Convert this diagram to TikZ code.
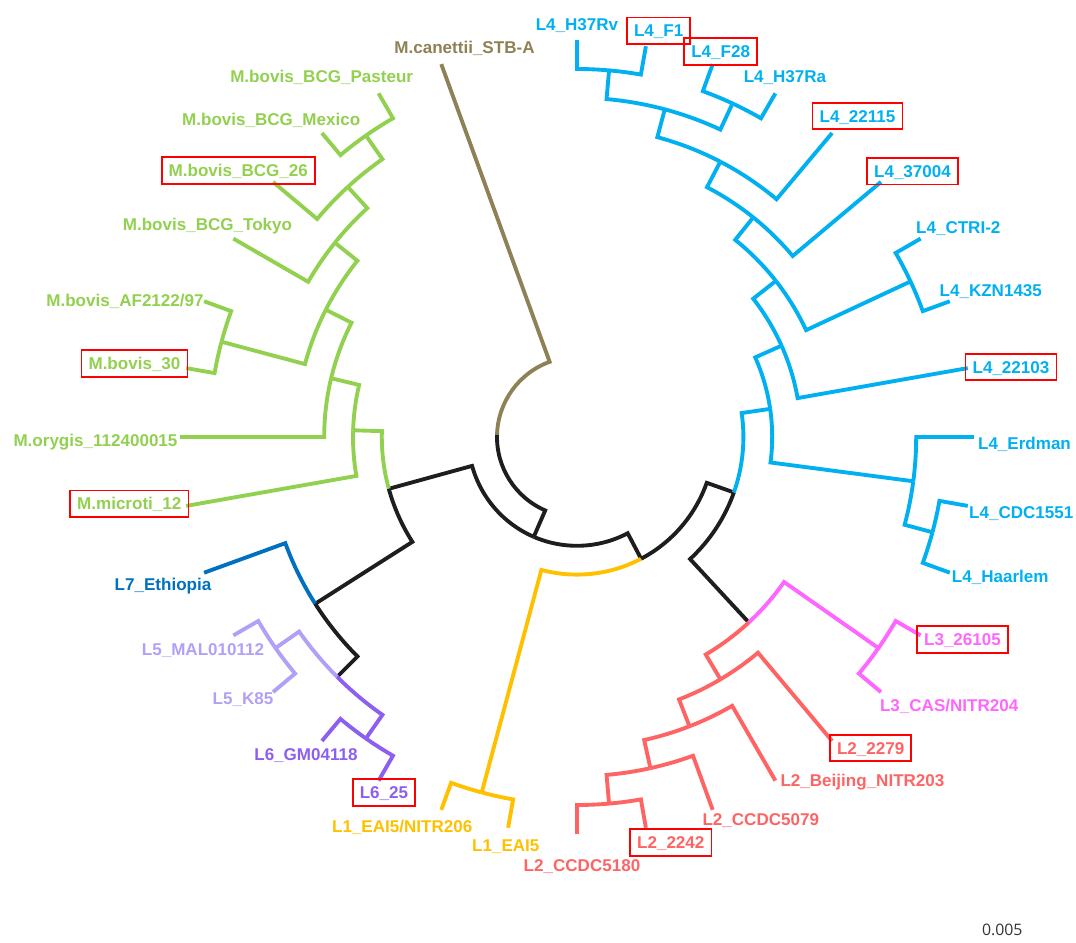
\documentclass[tikz,border=0pt]{standalone}
\usepackage{fontspec}
\setmainfont{Liberation Sans}
\setsansfont{Open Sans}
\usetikzlibrary{positioning}
\definecolor{canettii}{RGB}{141,129,85}
\definecolor{animal}{RGB}{146,208,80}
\definecolor{lfour}{RGB}{0,176,240}
\definecolor{lseven}{RGB}{0,112,192}
\definecolor{lfive}{RGB}{178,160,248}
\definecolor{lsix}{RGB}{140,95,242}
\definecolor{lone}{RGB}{255,192,0}
\definecolor{ltwo}{RGB}{255,100,100}
\definecolor{lthree}{RGB}{255,102,255}
\definecolor{stem}{RGB}{30,30,30}
\tikzset{branch/.style={line width=2.2pt, line join=miter}}
\tikzset{leaf/.style={font=\fontsize{9.7}{11}\selectfont\bfseries, text height=7pt, text depth=0pt, inner sep=4pt}}
\tikzset{marked/.style={leaf, draw=red, line width=1pt}}

\begin{document}
\begin{tikzpicture}[x=0.02cm, y=0.02cm]
    \useasboundingbox (-577,-506) rectangle (499,437);

    \foreach \n/\a/\r in {root/178.291/80, mtbc/246.582/108.8, west/195.391/195.2,
        anA/178.281/224, anB/166.563/252.8, anC/153.125/281.6, bcgC/141.25/310.4,
        bcgB/132.5/339.2, bcgA/125/368, bov/165/368,
        l567/212.5/310.4, l56/225/339.2, l5/215/368, l6/235/368,
        east/297.773/137.6, l1/255/368, l234/340.547/166.4, l23/312.813/252.8,
        l3/325/368, l2a/300.625/281.6, l2b/291.25/310.4, l2c/282.5/339.2, l2d/275/368,
        l4/368.281/195.2, l4a/352.5/339.2, l4h/345/368, l4b/384.063/224,
        l4c/398.125/252.8, l4k/385/368, l4d/411.25/281.6, l4e/422.5/310.4,
        l4f/435/339.2, l4g/425/368, l4r/445/368}
        \coordinate (\n) at (\a:\r);

    \foreach \n/\a in {canettii/110, pasteur/120, mexico/130, bcg26/140, tokyo/150,
        af/160, bov30/170, orygis/180, microti/190, ethiopia/200, mal/210, k85/220,
        gm/230, l6x25/240, eai5nitr/250, eai5/260, ccdc5180/270, l2x2242/280,
        ccdc5079/290, beijing/300, l2x2279/310, cas/320, l3x26105/330, haarlem/340,
        cdc1551/350, erdman/360, l4x22103/370, kzn/380, ctri/390, l4x37004/400,
        l4x22115/410, h37ra/420, f28/430, f1/440, h37rv/450}
        \coordinate (\n) at (\a:396.8);

    \foreach \c/\a/\p/\r/\col in {canettii/110/178.291/80/canettii, mtbc/246.582/178.291/80/stem,
        west/195.391/246.582/108.8/stem, east/297.773/246.582/108.8/stem,
        anA/178.281/195.391/195.2/animal, l567/212.5/195.391/195.2/stem,
        l1/255/297.773/137.6/lone, l234/340.547/297.773/137.6/stem,
        l23/312.813/340.547/166.4/stem, l4/368.281/340.547/166.4/lfour,
        l3/325/312.813/252.8/lthree, l2a/300.625/312.813/252.8/ltwo,
        ethiopia/200/212.5/310.4/lseven, l56/225/212.5/310.4/stem,
        l5/215/225/339.2/lfive, l6/235/225/339.2/lsix}
        \draw[branch, \col] (\c) -- (\a:\r) arc[start angle=\a, end angle=\p, radius=\r];

    \foreach \c/\a/\p/\r in {microti/190/178.281/224, anB/166.563/178.281/224,
        orygis/180/166.563/252.8, anC/153.125/166.563/252.8,
        bcgC/141.25/153.125/281.6, bov/165/153.125/281.6,
        af/160/165/368, bov30/170/165/368,
        tokyo/150/141.25/310.4, bcgB/132.5/141.25/310.4,
        bcg26/140/132.5/339.2, bcgA/125/132.5/339.2,
        mexico/130/125/368, pasteur/120/125/368}
        \draw[branch, animal] (\c) -- (\a:\r) arc[start angle=\a, end angle=\p, radius=\r];

    \foreach \c/\a/\p/\r/\col in {mal/210/215/368/lfive, k85/220/215/368/lfive,
        gm/230/235/368/lsix, l6x25/240/235/368/lsix,
        eai5nitr/250/255/368/lone, eai5/260/255/368/lone,
        cas/320/325/368/lthree, l3x26105/330/325/368/lthree}
        \draw[branch, \col] (\c) -- (\a:\r) arc[start angle=\a, end angle=\p, radius=\r];

    \foreach \c/\a/\p/\r in {l2x2279/310/300.625/281.6, l2b/291.25/300.625/281.6,
        beijing/300/291.25/310.4, l2c/282.5/291.25/310.4,
        ccdc5079/290/282.5/339.2, l2d/275/282.5/339.2,
        ccdc5180/270/275/368, l2x2242/280/275/368}
        \draw[branch, ltwo] (\c) -- (\a:\r) arc[start angle=\a, end angle=\p, radius=\r];

    \foreach \c/\a/\p/\r in {l4a/352.5/368.281/195.2, l4b/384.063/368.281/195.2,
        erdman/360/352.5/339.2, l4h/345/352.5/339.2,
        haarlem/340/345/368, cdc1551/350/345/368,
        l4x22103/370/384.063/224, l4c/398.125/384.063/224,
        l4k/385/398.125/252.8, l4d/411.25/398.125/252.8,
        kzn/380/385/368, ctri/390/385/368,
        l4x37004/400/411.25/281.6, l4e/422.5/411.25/281.6,
        l4x22115/410/422.5/310.4, l4f/435/422.5/310.4,
        l4g/425/435/339.2, l4r/445/435/339.2,
        h37ra/420/425/368, f28/430/425/368,
        f1/440/445/368, h37rv/450/445/368}
        \draw[branch, lfour] (\c) -- (\a:\r) arc[start angle=\a, end angle=\p, radius=\r];

    \node[leaf, text=canettii] (t-canettii) at (-112.5,390) {M.canettii\_STB-A};
    \node[leaf, text=animal] (t-pasteur) at (-255.3,361) {M.bovis\_BCG\_Pasteur};
    \node[leaf, text=animal] (t-mexico) at (-305.8,317.7) {M.bovis\_BCG\_Mexico};
    \node[marked, text=animal] (t-bcg26) at (-338.7,266.5) {M.bovis\_BCG\_26};
    \node[leaf, text=animal] (t-tokyo) at (-369.5,212.7) {M.bovis\_BCG\_Tokyo};
    \node[leaf, text=animal] (t-af) at (-452,136.3) {M.bovis\_AF2122/97};
    \node[marked, text=animal] (t-bov30) at (-442.5,73.5) {M.bovis\_30};
    \node[leaf, text=animal] (t-orygis) at (-481.5,-3) {M.orygis\_112400015};
    \node[marked, text=animal] (t-microti) at (-447.7,-66.8) {M.microti\_12};
    \node[leaf, text=lseven] (t-ethiopia) at (-414,-147) {L7\_Ethiopia};
    \node[leaf, text=lfive] (t-mal) at (-374,-212) {L5\_MAL010112};
    \node[leaf, text=lfive] (t-k85) at (-334,-261) {L5\_K85};
    \node[leaf, text=lsix] (t-gm) at (-271,-317) {L6\_GM04118};
    \node[marked, text=lsix] (t-l6x25) at (-193,-355.5) {L6\_25};
    \node[leaf, text=lone] (t-eai5nitr) at (-174.8,-389.7) {L1\_EAI5/NITR206};
    \node[leaf, text=lone] (t-eai5) at (-71.2,-408) {L1\_EAI5};
    \node[leaf, text=ltwo] (t-ccdc5180) at (5,-428) {L2\_CCDC5180};
    \node[marked, text=ltwo] (t-l2x2242) at (93.8,-405.5) {L2\_2242};
    \node[leaf, text=ltwo] (t-ccdc5079) at (183.8,-382) {L2\_CCDC5079};
    \node[leaf, text=ltwo] (t-beijing) at (285.5,-343.7) {L2\_Beijing\_NITR203};
    \node[marked, text=ltwo] (t-l2x2279) at (293.7,-311.2) {L2\_2279};
    \node[leaf, text=lthree] (t-cas) at (372.2,-268.7) {L3\_CAS/NITR204};
    \node[marked, text=lthree] (t-l3x26105) at (385.5,-202.5) {L3\_26105};
    \node[leaf, text=lfour] (t-haarlem) at (423.3,-139.7) {L4\_Haarlem};
    \node[leaf, text=lfour] (t-cdc1551) at (444.3,-75.7) {L4\_CDC1551};
    \node[leaf, text=lfour] (t-erdman) at (447.5,-6.3) {L4\_Erdman};
    \node[marked, text=lfour] (t-l4x22103) at (434,69.8) {L4\_22103};
    \node[leaf, text=lfour] (t-kzn) at (413.8,147) {L4\_KZN1435};
    \node[leaf, text=lfour] (t-ctri) at (381.3,209.7) {L4\_CTRI-2};
    \node[marked, text=lfour] (t-l4x37004) at (335.5,265.7) {L4\_37004};
    \node[marked, text=lfour] (t-l4x22115) at (280.5,321) {L4\_22115};
    \node[leaf, text=lfour] (t-h37ra) at (208,360.3) {L4\_H37Ra};
    \node[marked, text=lfour] (t-f28) at (143.7,385.5) {L4\_F28};
    \node[marked, text=lfour] (t-f1) at (81.7,406.2) {L4\_F1};
    \node[leaf, text=lfour] (t-h37rv) at (0,413) {L4\_H37Rv};

    \node[font=\sffamily\fontsize{9}{11}\selectfont, text=black!80] (scale) at (425.3,-493) {0.005};

\end{tikzpicture}
\end{document}
